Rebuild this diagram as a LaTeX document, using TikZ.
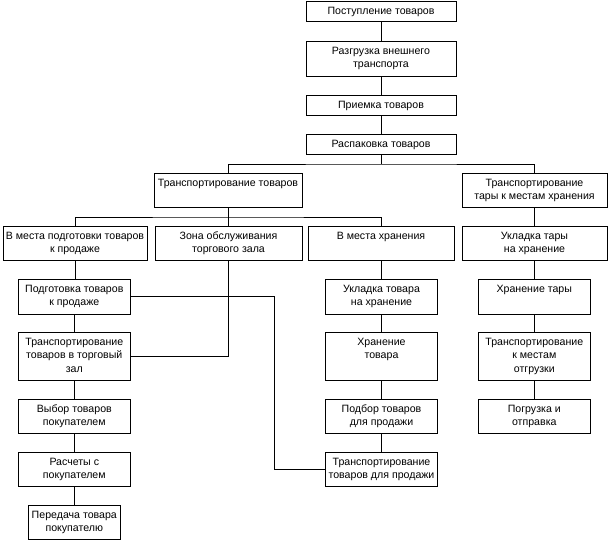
\documentclass[tikz,border=0pt]{standalone}
\usepackage{fontspec}
\setmainfont{Liberation Sans}
\newcommand{\bxt}[3]{\parbox[c][#2][t]{#1}{\fontsize{10.6pt}{13.3pt}\selectfont\centering\rule{0pt}{13.5pt}#3\par}}
\begin{document}
\begin{tikzpicture}[x=1pt,y=-1pt,
  box/.style={draw=black,line width=0.9pt,inner sep=0pt,outer sep=0pt,anchor=north west,fill=white},
  link/.style={draw=black,line width=0.9pt}]
\useasboundingbox[fill=white] (0,0) rectangle (609,541);
% top chain
\node[box] (post)  at (306,1)   {\bxt{150pt}{20pt}{Поступление товаров}};
\node[box] (razg)  at (306,41)  {\bxt{150pt}{35pt}{Разгрузка внешнего\\транспорта}};
\node[box] (priem) at (306,95)  {\bxt{150pt}{20pt}{Приемка товаров}};
\node[box] (rasp)  at (306,134) {\bxt{150pt}{20pt}{Распаковка товаров}};
% second level
\node[box] (transTov)  at (154,173) {\bxt{148pt}{34pt}{Транспортирование товаров}};
\node[box] (transTary) at (462,173) {\bxt{145pt}{34pt}{Транспортирование\\тары к местам хранения}};
% third level
\node[box] (vMestaPodg) at (3,226)   {\bxt{144pt}{34pt}{В места подготовки товаров\\к продаже}};
\node[box] (zona)       at (155,226) {\bxt{147pt}{34pt}{Зона обслуживания\\торгового зала}};
\node[box] (vMestaHran) at (308,226) {\bxt{146pt}{34pt}{В места хранения}};
\node[box] (ukladTary)  at (462,226) {\bxt{145pt}{34pt}{Укладка тары\\на хранение}};
% left column
\node[box] (podg)      at (18.3,279) {\bxt{112pt}{35pt}{Подготовка товаров\\к продаже}};
\node[box] (transZal)  at (18.3,332) {\bxt{112pt}{48pt}{Транспортирование\\товаров в торговый\\зал}};
\node[box] (vybor)     at (18.3,399) {\bxt{112pt}{34pt}{Выбор товаров\\покупателем}};
\node[box] (raschety)  at (18.3,452) {\bxt{112pt}{34pt}{Расчеты с\\покупателем}};
\node[box] (peredacha) at (28.3,505) {\bxt{92pt}{34pt}{Передача товара\\покупателю}};
% middle column
\node[box] (ukladTov)  at (325.5,279) {\bxt{112pt}{35pt}{Укладка товара\\на хранение}};
\node[box] (hranTov)   at (325.5,332) {\bxt{112pt}{48pt}{Хранение\\товара}};
\node[box] (podbor)    at (325.5,399) {\bxt{112pt}{34pt}{Подбор товаров\\для продажи}};
\node[box] (transProd) at (325.5,452) {\bxt{112pt}{34pt}{Транспортирование\\товаров для продажи}};
% right column
\node[box] (hranTary)  at (478.3,279) {\bxt{112pt}{35pt}{Хранение тары}};
\node[box] (transOtgr) at (478.3,332) {\bxt{112pt}{48pt}{Транспортирование\\к местам\\отгрузки}};
\node[box] (pogruzka)  at (478.3,399) {\bxt{112pt}{34pt}{Погрузка и\\отправка}};
% junction coordinates
\coordinate (j1) at (381,164);
\coordinate (j2) at (228,217);
\coordinate (bend) at (274.3,300);
% connectors
\draw[link] (post.south) -- (razg.north);
\draw[link] (razg.south) -- (priem.north);
\draw[link] (priem.south) -- (rasp.north);
\draw[link] (rasp.south) -- (j1);
\draw[link] (transTov.north) |- (j1) -| (transTary.north);
\draw[link] (transTov.south) -- (j2);
\draw[link] (vMestaPodg.north) |- (j2) -| (vMestaHran.north);
\draw[link] (j2) -- (j2 |- zona.north);
\draw[link] (transTary.south) -- (transTary.south |- ukladTary.north);
\draw[link] (vMestaPodg.south) -- (vMestaPodg.south |- podg.north);
\draw[link] (podg.south) -- (transZal.north);
\draw[link] (transZal.south) -- (vybor.north);
\draw[link] (vybor.south) -- (raschety.north);
\draw[link] (raschety.south) -- (peredacha.south |- peredacha.north);
\draw[link] (zona.south) |- (transZal.east);
\draw[link] (podg.east) -| (bend |- transProd.west) -- (transProd.west);
\draw[link] (vMestaHran.south) -- (vMestaHran.south |- ukladTov.north);
\draw[link] (ukladTov.south) -- (hranTov.north);
\draw[link] (hranTov.south) -- (podbor.north);
\draw[link] (podbor.south) -- (transProd.north);
\draw[link] (ukladTary.south) -- (ukladTary.south |- hranTary.north);
\draw[link] (hranTary.south) -- (transOtgr.north);
\draw[link] (transOtgr.south) -- (pogruzka.north);
\end{tikzpicture}
\end{document}
